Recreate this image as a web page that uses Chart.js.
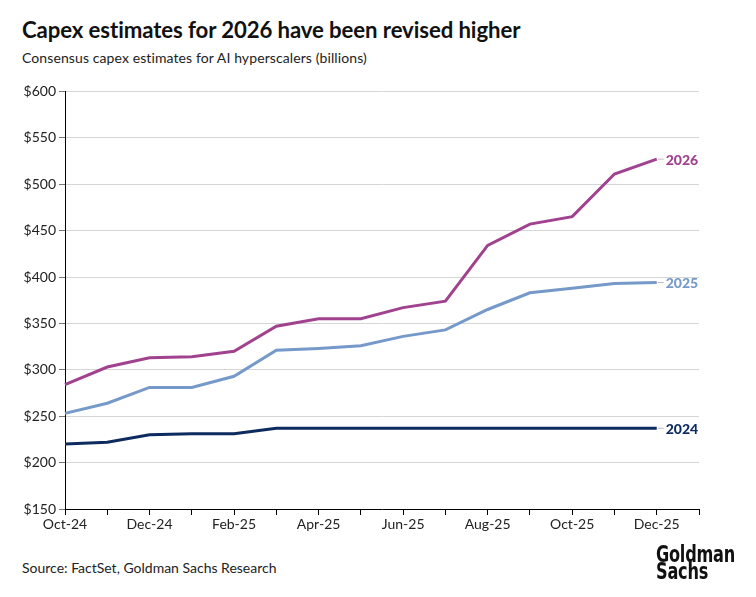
<!DOCTYPE html>
<html>
<head>
<meta charset="utf-8">
<script src="https://cdn.jsdelivr.net/npm/chart.js@4"></script>
<style>
  body { margin: 0; background: #fff; font-family: Lato, 'Noto Sans', sans-serif; color: #111; }
  #wrap { position: relative; width: 756px; height: 597px; overflow: hidden; }
  #title { position: absolute; left: 22px; top: 16px; font-size: 22.2px; font-weight: 700; letter-spacing: -0.1px; }
  #sub { position: absolute; left: 22px; top: 49px; font-size: 14px; letter-spacing: 0.1px; color: #222; }
  #src { position: absolute; left: 22px; top: 559px; font-size: 14px; color: #222; }
  #logo { position: absolute; left: 656px; top: 546px; font-family: 'Liberation Sans Narrow', 'DejaVu Sans Condensed', sans-serif;
          font-weight: 700; font-size: 23px; line-height: 17px; color: #111; transform: scaleX(0.78); transform-origin: left top; letter-spacing: -0.3px; }
  #box { position: absolute; left: 0; top: 80px; width: 756px; height: 462px; }
</style>
</head>
<body>
<div id="wrap">
  <div id="title">Capex estimates for 2026 have been revised higher</div>
  <div id="sub">Consensus capex estimates for AI hyperscalers (billions)</div>
  <div id="box"><canvas id="chart-capex"></canvas></div>
  <div id="src">Source: FactSet, Goldman Sachs Research</div>
  <div id="logo">Goldman<br>Sachs</div>
</div>
<script>
// ─── DADOS ──────────────────────────────────
const months = ['Oct-24', 'Nov-24', 'Dec-24', 'Jan-25', 'Feb-25', 'Mar-25', 'Apr-25', 'May-25',
  'Jun-25', 'Jul-25', 'Aug-25', 'Sep-25', 'Oct-25', 'Nov-25', 'Dec-25', 'Jan-26'];
const capex2026 = [284, 303, 313, 314, 320, 347, 355, 355, 367, 374, 434, 457, 465, 511, 527];
const capex2025 = [253, 264, 281, 281, 293, 321, 323, 326, 336, 343, 365, 383, 388, 393, 394];
const capex2024 = [220, 222, 230, 231, 231, 237, 237, 237, 237, 237, 237, 237, 237, 237, 237];
const seriesNames = ['2026', '2025', '2024'];
const seriesColors = ['#a1428f', '#7599c9', '#0d2b5e'];

// rótulos no fim de cada linha
const endLabels = {
  id: 'endLabels',
  afterDatasetsDraw(chart) {
    const ctx = chart.ctx;
    ctx.save();
    chart.data.datasets.forEach((ds, i) => {
      const meta = chart.getDatasetMeta(i);
      const last = meta.data[meta.data.length - 1];
      ctx.strokeStyle = '#bbb';
      ctx.lineWidth = 1;
      ctx.beginPath();
      ctx.moveTo(last.x + 1, last.y);
      ctx.lineTo(last.x + 7, last.y);
      ctx.stroke();
      ctx.fillStyle = ds.borderColor;
      ctx.font = '900 14px Lato';
      ctx.textBaseline = 'middle';
      ctx.fillText(ds.label, last.x + 9, last.y + 1);
    });
    ctx.restore();
  }
};

new Chart(document.getElementById('chart-capex'), {
  type: 'line',
  data: {
    labels: months,
    datasets: [capex2026, capex2025, capex2024].map((d, i) => ({
      label: seriesNames[i],
      data: d,
      borderColor: seriesColors[i],
      borderWidth: 3,
      pointRadius: 0,
      tension: 0,
      fill: false
    }))
  },
  options: {
    responsive: true,
    maintainAspectRatio: false,
    animation: false,
    layout: { padding: { top: 10, right: 57, bottom: 0, left: 0 } },
    plugins: { legend: { display: false }, tooltip: { enabled: false } },
    scales: {
      x: {
        offset: false,
        afterFit: s => { s.height = 33; },
        border: { color: '#000', width: 1 },
        grid: { drawOnChartArea: false, drawTicks: true, tickLength: 6, color: '#000' },
        ticks: {
          autoSkip: false, maxRotation: 0, color: '#222', padding: 1,
          font: { family: 'Lato', size: 14 },
          callback: (v, i) => (i % 2 === 0 && i < 15 ? months[i] : '')
        }
      },
      y: {
        min: 150, max: 600,
        afterFit: s => { s.width = 65; },
        border: { color: '#000', width: 1 },
        grid: { color: '#d6d6d6', tickColor: '#777', tickLength: 6 },
        ticks: {
          stepSize: 50, color: '#222', padding: 3,
          font: { family: 'Lato', size: 14 },
          callback: v => '$' + v
        }
      }
    }
  },
  plugins: [endLabels]
});
</script>
</body>
</html>
